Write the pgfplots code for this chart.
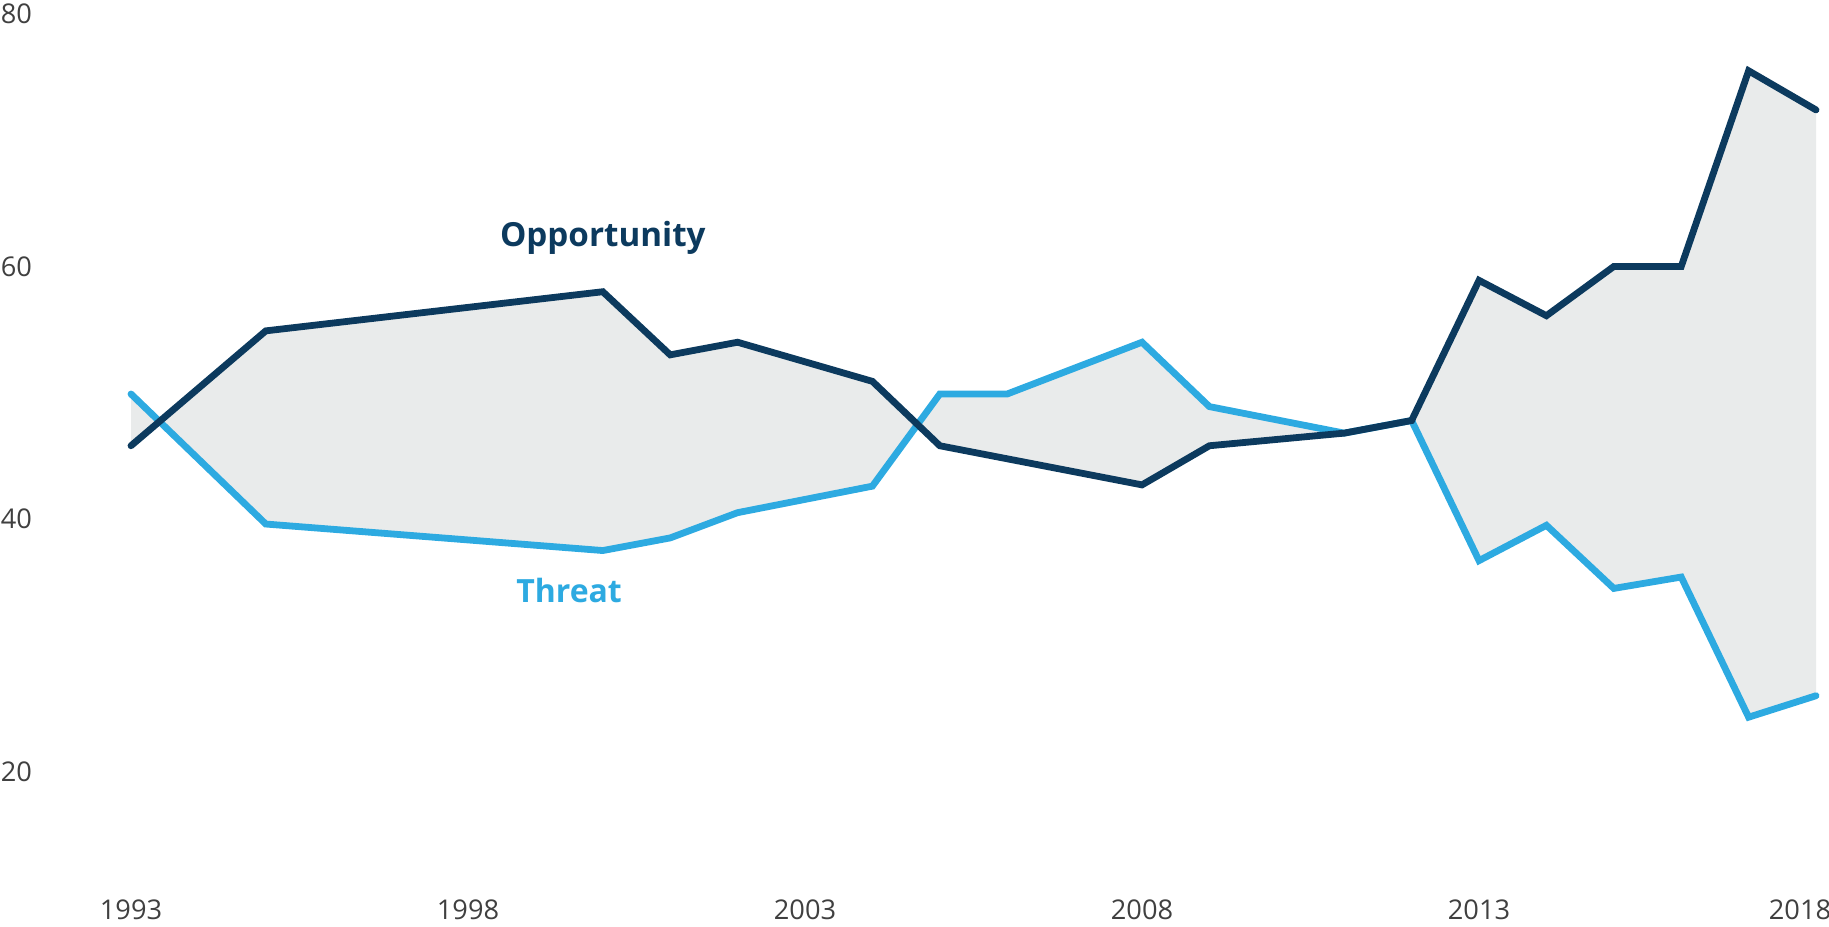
\documentclass[border=0pt]{standalone}
\usepackage{pgfplots}
\pgfplotsset{compat=1.18}
\usepackage{pgfplotstable}
\usepgfplotslibrary{fillbetween}
\usepackage{fontspec}
\setmainfont{Open Sans}
\definecolor{oppc}{RGB}{12,58,94}
\definecolor{thrc}{RGB}{45,170,225}
\definecolor{fillc}{RGB}{233,235,235}
\definecolor{tickc}{RGB}{64,64,64}

\pgfplotstableread{
year val
1993 45.8
1995 54.9
2000 58.0
2001 53.0
2002 54.0
2004 50.9
2005 45.8
2008 42.7
2009 45.8
2011 46.8
2012 47.8
2013 58.9
2014 56.1
2015 60.0
2016 60.0
2017 75.5
2018 72.4
}\opp

\pgfplotstableread{
year val
1993 49.9
1995 39.6
2000 37.5
2001 38.5
2002 40.5
2004 42.6
2005 49.9
2006 49.9
2008 54.0
2009 48.9
2011 46.8
2012 47.8
2013 36.7
2014 39.5
2015 34.5
2016 35.4
2017 24.3
2018 26.0
}\thr

\begin{document}
\begin{tikzpicture}
\begin{axis}[
  scale only axis,
  width=421.25pt, height=220.94pt,
  xmin=1993, xmax=2018, ymin=10, ymax=80,
  axis line style={draw=none},
  tick style={draw=none},
  major tick length=0pt,
  xtick={1993,1998,2003,2008,2013,2018},
  xticklabels={1993,1998,2003,2008,2013,{\hspace*{-8pt}2018}},
  ytick={20,40,60,80},
  yticklabels={20,40,60,80},
  xtick pos=bottom, ytick pos=left,
  tick label style={font=\fontsize{6.8}{8}\selectfont, text=tickc, inner sep=0pt},
  xticklabel style={anchor=center, yshift=-3pt},
  yticklabel style={anchor=west, xshift=-32.75pt},
  clip=false,
]
\addplot[draw=none, name path=A] table[x=year, y=val] {\opp};
\addplot[draw=none, name path=B] table[x=year, y=val] {\thr};
\addplot[fill=fillc, draw=none] fill between[of=A and B];
\addplot[thrc, line width=1.7pt, line cap=round, line join=miter] table[x=year, y=val] {\thr};
\addplot[oppc, line width=1.7pt, line cap=round, line join=miter] table[x=year, y=val] {\opp};
\node[text=oppc, font=\fontsize{8.3}{10}\selectfont\bfseries] at (axis cs:2000.0,62.3) {Opportunity};
\node[text=thrc, font=\fontsize{8.0}{10}\selectfont\bfseries] at (axis cs:1999.5,34.3) {Threat};
\end{axis}
\pgfresetboundingbox
\useasboundingbox ([xshift=-32.75pt,yshift=-7.1pt]current axis.south west) rectangle ([xshift=3.25pt,yshift=3.5pt]current axis.north east);
\end{tikzpicture}
\end{document}
